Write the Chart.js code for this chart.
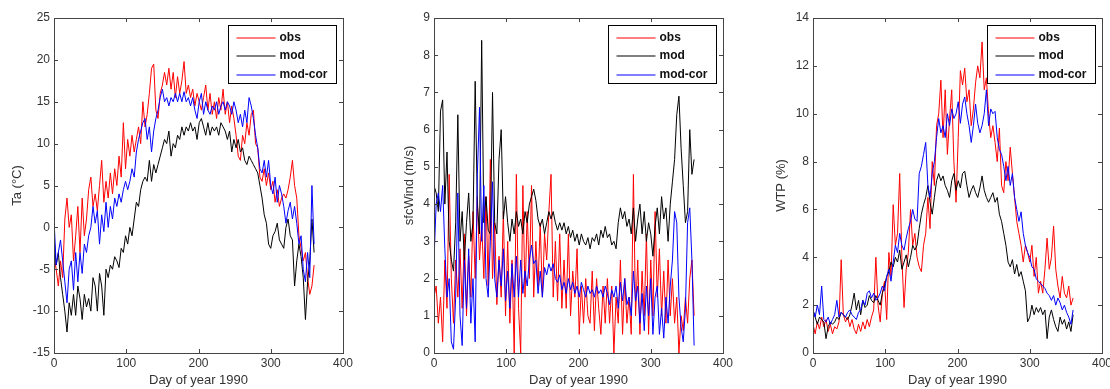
<!DOCTYPE html>
<html lang="en">
<head>
<meta charset="UTF-8">
<title>obs / mod / mod-cor 1990</title>
<script src="https://cdn.jsdelivr.net/npm/chart.js"></script>
<style>
  body { margin: 0; background: #fff; }
  #wrap { position: relative; width: 1110px; height: 389px; overflow: hidden; }
  #wrap canvas { position: absolute; top: 0; }
</style>
</head>
<body>
<div id="wrap">
  <canvas id="c1" width="353" height="389" style="left:4px"></canvas>
  <canvas id="c2" width="353" height="389" style="left:384px"></canvas>
  <canvas id="c3" width="353" height="389" style="left:763px"></canvas>
</div>

<script>
// day of year (every 3rd day)
const days = [
  0,3,6,9,12,15,18,21,24,27, 30,33,36,39,42,45,48,51,54,57,
  60,63,66,69,72,75,78,81,84,87, 90,93,96,99,102,105,108,111,114,117,
  120,123,126,129,132,135,138,141,144,147, 150,153,156,159,162,165,168,171,174,177,
  180,183,186,189,192,195,198,201,204,207, 210,213,216,219,222,225,228,231,234,237,
  240,243,246,249,252,255,258,261,264,267, 270,273,276,279,282,285,288,291,294,297,
  300,303,306,309,312,315,318,321,324,327, 330,333,336,339,342,345,348,351,354,357,
  360
];

const seriesNames = ['obs', 'mod', 'mod-cor'];
const seriesColors = ['#ff0000', '#000000', '#0000ff'];
const xTicks = [0, 100, 200, 300, 400];

// Ta (°C)
const taObs = [
  -3.5,-5,-7,-4,-6,1,3.5,0,1.5,-4,
  -1,2.5,-3,3.5,-1,1,4.5,6,2.5,4,
  2,5,8,3,5.5,3.5,6.5,4,7,5,
  8.5,6,12.5,7,10.5,8.5,11,9,10.5,12,
  10,15,12,13.5,16,19,19.5,14,13,16,
  17,18.5,17,19,16.5,18.5,15.5,18,16,17.5,
  19.8,16,17,15.5,16.5,14.5,16,15,14,15.5,
  17,14,16,13.5,15,13,15.5,14,16.5,13.5,
  15,12.5,14.5,13,11,8.5,8,11,10,12.5,
  11,13.5,14,10,9.5,6,5.5,7,5,6.5,
  4.5,5.5,3,4.5,2.5,3.5,4,3.5,4.5,6,
  8,5,3.5,-1,-2.5,-4,-3,-6,-8,-7,
  -4.5
];
const taMod = [
  -1,-4.5,-3,-6,-8,-10,-12.5,-9,-10.5,-8,
  -10.5,-7,-8.5,-11,-8,-9.5,-8.5,-10,-6,-7,
  -10,-5.5,-7,-10.5,-5,-6,-4.5,-5,-3.5,-4,
  -4.8,-2.5,-3,-1,-2,0,-1,1,3,2.5,
  4.5,5.5,6,5.5,8,5.5,7.5,6.5,7.5,8.5,
  9.5,10.5,10,11.5,8.5,10,9.5,11,10.5,12,
  11,12,11.5,12.5,11.5,12,10.5,12.5,13,12,
  11,12.5,11,12,11.5,12,11,12.5,12,11.5,
  10.5,11.5,9,10.5,9.5,10.5,9,9.5,8,7.5,
  8.5,8,7.5,7,6.5,5,3.5,1.5,0.5,-2,
  -2.5,-1,-0.5,0.5,-1.5,-2,-2.5,0,1,-1,
  -1.5,-7,-4,-2,-3.5,-6,-11,-6.5,-4,1,
  -3
];
const taModCor = [
  1,-4.5,-3,-1.5,-4,-6.5,-9,-5,-4,-7.5,
  -3,-6.5,-3,-5.5,-2,-3,-1,0,2.5,0.5,
  2,-2,1.5,-0.5,3,0,2.5,1,3.5,2.5,
  4,3,4.5,5.5,4.5,5.5,7,6,9,10.5,
  11.5,12.5,13,10.5,12,9,11.5,13,14,15.5,
  16.5,15,15.5,14.5,15.5,15,16,15,16,15,
  16.2,15,15.5,14.5,15.5,14,13,15,16,13.5,
  15,14,13.5,14.5,14,15,13.5,14.5,15,14,
  15,14.5,13.5,15,14,12.5,13.5,12,14,12.5,
  15.5,14.5,13,11,9.5,7,6.5,8,6,8,
  5,4,6,3,5,4,2.5,0.5,2,3,
  1,2.5,0.5,-2,-1,-5,-6.5,-3,-6,5,
  -2
];

// sfcWind (m/s)
const windObs = [
  1.5,1.8,0.8,1.5,0.3,2.5,1.2,4.8,2.0,0.8,
  2.5,1.5,2.8,1.2,3.2,1.0,2.6,1.5,3.8,2.0,
  4.2,2.5,3.5,2.0,4.2,1.8,5.2,2.0,3.5,1.3,
  2.6,1.5,3.8,1.0,3.0,0.8,2.5,0.0,4.8,1.2,
  0.0,4.5,1.5,3.8,2.0,4.5,1.5,3.0,1.8,3.5,
  1.5,3.2,2.5,3.8,4.8,1.5,3.0,1.4,3.2,1.2,
  2.5,1.2,3.2,1.0,2.2,1.5,2.8,0.5,1.8,0.8,
  2.0,1.0,0.8,2.2,0.6,2.0,1.2,0.5,1.8,0.8,
  2.0,0.8,1.8,0.0,1.5,0.8,2.5,0.5,2.0,0.8,
  1.5,0.5,4.8,1.0,2.5,0.5,2.2,1.0,3.2,0.5,
  2.5,1.0,3.8,1.5,2.8,1.0,2.2,0.8,2.5,1.0,
  2.0,0.8,1.5,0.0,1.0,0.6,1.5,0.8,2.0,2.5,
  1.0
];
const windMod = [
  4.5,4.3,3.8,6.5,6.8,4.0,5.4,3.0,2.5,2.2,
  3.5,6.4,3.0,3.8,2.5,3.5,4.3,3.0,3.5,7.3,
  4.0,3.2,8.4,3.5,4.2,3.3,3.2,7.0,3.5,3.2,
  5.2,6.0,3.6,4.2,3.5,3.0,3.6,3.2,3.8,3.4,
  3.6,3.2,3.8,3.5,4.0,4.2,4.4,4.1,3.6,3.4,
  3.6,3.2,3.5,3.8,3.6,3.8,3.5,3.3,3.5,3.3,
  3.5,3.2,3.4,3.1,3.3,3.0,3.2,2.9,3.2,3.0,
  2.9,3.1,2.8,3.1,3.0,3.2,2.9,3.3,3.1,3.4,
  3.1,3.2,2.9,3.0,2.8,3.5,3.9,3.6,3.8,3.4,
  3.6,3.2,3.9,3.0,3.6,4.0,3.2,3.8,3.0,3.5,
  3.2,2.6,3.4,3.9,3.2,4.2,3.6,3.9,3.0,4.0,
  4.6,5.2,6.4,6.9,5.5,4.5,3.5,3.8,6.0,4.8,
  5.2
];
const windModCor = [
  2.5,4.0,4.3,3.8,4.5,2.8,1.5,2.0,0.3,0.1,
  1.5,4.3,1.0,0.2,2.5,1.2,2.8,0.8,2.0,0.3,
  4.8,6.6,3.0,4.5,2.0,1.5,3.0,4.6,2.0,1.5,
  2.5,1.8,2.8,1.4,2.2,1.2,2.4,1.5,2.6,1.5,
  2.5,1.6,2.2,1.8,2.5,2.9,2.4,2.5,1.6,2.2,
  1.5,2.3,2.1,2.4,2.2,2.4,2.0,1.9,2.1,1.7,
  1.9,1.6,2.0,1.7,1.9,1.6,1.8,1.5,1.9,1.7,
  1.5,1.8,1.6,1.7,1.5,1.8,1.6,1.7,1.5,1.8,
  1.6,1.3,1.7,1.5,1.8,1.2,1.9,1.4,2.0,1.3,
  1.5,1.0,2.2,1.4,1.8,0.8,1.6,0.6,1.8,1.0,
  2.0,0.5,1.5,1.8,0.5,1.2,0.4,1.5,0.8,1.8,
  2.5,3.8,3.5,1.5,0.7,0.3,1.2,3.5,3.9,2.5,
  0.2
];

// WTP (%)
const wtpObs = [
  1.2,0.8,1.3,1.0,1.5,1.1,1.4,0.9,1.2,0.8,
  1.1,1.0,1.3,3.9,1.6,1.3,1.5,1.1,1.4,1.0,
  0.8,1.2,0.9,1.3,1.0,1.4,1.1,1.5,1.8,4.0,
  2.0,1.3,2.5,3.0,1.4,4.2,3.2,6.2,4.5,5.0,
  7.5,4.0,1.9,3.5,4.2,6.0,4.5,5.0,4.0,3.6,
  3.4,4.5,5.0,6.5,5.2,8.0,7.0,9.5,10.0,11.4,
  9.0,11.0,8.3,9.8,11.0,8.0,6.3,9.0,11.8,11.2,
  11.9,10.5,11.0,9.5,10.2,11.3,12.0,11.5,13.0,11.0,
  11.5,10.0,9.0,9.5,8.8,8.0,9.4,7.0,6.7,8.0,
  7.2,8.6,7.5,6.5,5.5,5.0,4.5,3.8,4.5,4.2,
  3.8,4.5,3.2,4.0,2.5,3.0,2.5,3.5,4.8,3.5,
  4.0,5.3,3.5,2.8,2.3,3.2,2.5,2.3,2.8,2.0,
  2.3
];
const wtpMod = [
  1.8,1.5,1.2,1.5,1.4,1.3,0.6,1.1,1.3,1.2,
  1.3,1.5,1.4,1.7,1.6,1.5,1.4,1.6,2.0,2.5,
  1.8,2.2,1.6,2.2,1.9,2.0,2.4,2.2,2.1,2.4,
  2.2,2.0,2.5,2.8,3.2,3.4,3.8,3.6,4.0,3.8,
  4.3,3.5,3.8,4.1,3.6,4.0,4.5,4.3,4.5,5.2,
  5.8,6.2,6.5,7.0,6.3,5.8,6.5,7.2,7.5,7.2,
  7.4,7.0,6.8,6.5,7.2,7.5,6.8,7.2,6.9,7.5,
  7.6,7.0,6.5,6.8,7.0,6.7,6.5,6.9,7.4,6.8,
  6.5,6.3,6.5,6.7,6.3,6.5,5.8,5.5,5.0,4.5,
  3.8,3.6,3.9,3.3,3.7,3.2,3.4,3.0,2.6,1.3,
  1.5,2.0,1.6,1.9,1.7,1.9,1.6,1.8,0.6,1.5,
  1.8,1.4,1.1,0.9,1.5,1.2,1.4,1.0,1.3,0.9,
  1.6
];
const wtpModCor = [
  1.8,1.5,2.0,1.6,2.8,1.4,1.3,1.5,1.2,1.4,
  1.6,2.2,1.5,1.7,1.6,1.5,1.7,1.8,1.6,1.5,
  1.4,1.7,1.8,2.2,2.0,2.5,2.6,2.3,2.5,2.2,
  2.3,2.5,2.8,2.6,3.2,3.5,3.0,3.8,4.5,4.2,
  5.0,4.5,4.3,4.8,5.2,5.5,6.0,5.6,5.5,7.5,
  7.8,8.3,8.8,7.0,6.5,7.5,8.0,9.0,9.8,9.2,
  9.5,9.0,10.0,9.5,10.2,9.8,10.0,10.5,9.6,10.4,
  10.7,10.0,9.5,8.8,9.5,10.4,9.6,9.2,9.5,10.0,
  11.0,9.5,10.2,10.0,10.1,9.0,8.5,8.3,7.8,7.2,
  7.8,7.0,7.5,6.5,6.0,5.5,5.9,5.0,4.5,4.2,
  4.0,3.6,3.5,3.1,3.0,2.9,2.8,2.7,2.5,2.4,
  2.2,2.4,2.0,2.3,2.1,1.8,2.0,1.7,1.5,1.2,
  1.8
];

const FONT = 'Arial, "Liberation Sans", Helvetica, sans-serif';
const TXT = '#333333';

function toPoints(vals) {
  return days.map((d, i) => ({ x: d, y: vals[i] }));
}

// matlab style box, inward ticks and legend in the top right corner
const matlabAxes = {
  id: 'matlabAxes',
  afterDatasetsDraw(chart) {
    const { ctx, chartArea: a, scales } = chart;
    ctx.save();
    ctx.strokeStyle = '#444';
    ctx.lineWidth = 1;
    ctx.beginPath();
    scales.x.ticks.forEach(t => {
      const px = Math.round(scales.x.getPixelForValue(t.value)) + 0.5;
      ctx.moveTo(px, a.bottom); ctx.lineTo(px, a.bottom - 4);
      ctx.moveTo(px, a.top); ctx.lineTo(px, a.top + 4);
    });
    scales.y.ticks.forEach(t => {
      const py = Math.round(scales.y.getPixelForValue(t.value)) + 0.5;
      ctx.moveTo(a.left, py); ctx.lineTo(a.left + 4, py);
      ctx.moveTo(a.right, py); ctx.lineTo(a.right - 4, py);
    });
    ctx.stroke();
    ctx.strokeRect(Math.round(a.left) + 0.5, Math.round(a.top) + 0.5,
      Math.round(a.right - a.left), Math.round(a.bottom - a.top));

    // legend
    const w = 108, h = 58;
    const bx = Math.round(a.right) - 7 - w + 0.5;
    const by = Math.round(a.top) + 7 + 0.5;
    ctx.fillStyle = '#fff';
    ctx.fillRect(bx, by, w, h);
    ctx.strokeStyle = '#000';
    ctx.strokeRect(bx, by, w, h);
    ctx.font = 'bold 12px ' + FONT;
    ctx.textBaseline = 'middle';
    seriesNames.forEach((name, i) => {
      const ry = Math.round(by + 12 + i * 18.5);
      ctx.beginPath();
      ctx.strokeStyle = seriesColors[i];
      ctx.lineWidth = 1.2;
      ctx.moveTo(bx + 8, ry);
      ctx.lineTo(bx + 47, ry);
      ctx.stroke();
      ctx.fillStyle = '#111';
      ctx.fillText(name, bx + 51, ry);
    });
    ctx.restore();
  }
};

function makePanel(id, series, yMin, yMax, yStep, yTitle, titlePad) {
  const datasets = series.map((vals, i) => ({
    label: seriesNames[i],
    data: toPoints(vals),
    borderColor: seriesColors[i],
    borderWidth: 1,
    pointRadius: 0,
    tension: 0,
    fill: false,
    order: series.length - i
  }));
  return new Chart(document.getElementById(id), {
    type: 'line',
    data: { datasets },
    plugins: [matlabAxes],
    options: {
      responsive: false,
      animation: false,
      events: [],
      layout: { padding: { left: 0, top: 18, right: 14, bottom: 0 } },
      plugins: { legend: { display: false }, tooltip: { enabled: false } },
      scales: {
        x: {
          type: 'linear',
          min: 0, max: 400,
          afterBuildTicks: s => { s.ticks = xTicks.map(v => ({ value: v })); },
          afterFit: s => { s.height = 36; },
          grid: { display: false, drawTicks: false },
          border: { display: false },
          ticks: { padding: 3, color: TXT, font: { family: FONT, size: 12 }, maxRotation: 0 },
          title: { display: true, text: 'Day of year 1990', color: TXT,
                   font: { family: FONT, size: 13 }, padding: { top: 0, bottom: 1 } }
        },
        y: {
          min: yMin, max: yMax,
          afterFit: s => { s.width = 50; },
          grid: { display: false, drawTicks: false },
          border: { display: false },
          ticks: { stepSize: yStep, padding: 4, color: TXT, font: { family: FONT, size: 12 } },
          title: { display: true, text: yTitle, color: TXT,
                   font: { family: FONT, size: 13 }, padding: { top: titlePad, bottom: 0 } }
        }
      }
    }
  });
}

makePanel('c1', [taObs, taMod, taModCor], -15, 25, 5, 'Ta (°C)', 6);
makePanel('c2', [windObs, windMod, windModCor], 0, 9, 1, 'sfcWind (m/s)', 18);
makePanel('c3', [wtpObs, wtpMod, wtpModCor], 0, 14, 2, 'WTP (%)', 11);
</script>
</body>
</html>
